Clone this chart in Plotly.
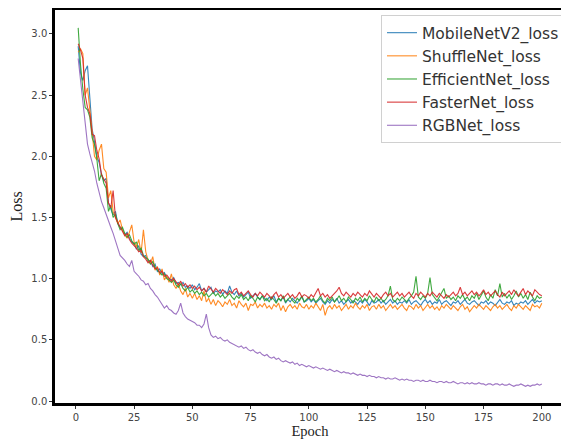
import plotly.graph_objects as go

epochs = list(range(1, 201))

mobilenet_loss = [
    2.90, 2.68, 2.62, 2.70, 2.74, 2.45, 2.22, 2.12, 2.00, 1.95,
    1.85, 1.80, 1.82, 1.62, 1.56, 1.52, 1.55, 1.45, 1.42, 1.40,
    1.36, 1.38, 1.33, 1.30, 1.29, 1.24, 1.27, 1.20, 1.18, 1.19,
    1.14, 1.15, 1.10, 1.12, 1.06, 1.08, 1.04, 1.05, 1.01, 1.00,
    0.99, 1.01, 0.96, 0.97, 0.95, 0.97, 0.93, 0.94, 0.92, 0.95,
    0.91, 0.93, 0.96, 0.90, 0.92, 0.89, 0.91, 0.93, 0.88, 0.90,
    0.89, 0.91, 0.87, 0.90, 0.88, 0.94, 0.89, 0.87, 0.90, 0.86,
    0.88, 0.85, 0.87, 0.89, 0.84, 0.86, 0.88, 0.85, 0.83, 0.86,
    0.84, 0.82, 0.85, 0.83, 0.86, 0.81, 0.84, 0.82, 0.85, 0.80,
    0.83, 0.81, 0.84, 0.82, 0.80, 0.83, 0.85, 0.81, 0.82, 0.84,
    0.81, 0.83, 0.80, 0.82, 0.84, 0.81, 0.79, 0.82, 0.80, 0.83,
    0.81, 0.84, 0.80, 0.82, 0.79, 0.81, 0.83, 0.80, 0.82, 0.81,
    0.79, 0.82, 0.80, 0.83, 0.81, 0.78, 0.82, 0.80, 0.81, 0.83,
    0.80, 0.82, 0.79, 0.81, 0.83, 0.80, 0.82, 0.79, 0.81, 0.80,
    0.82, 0.80, 0.83, 0.79, 0.81, 0.82, 0.80, 0.78, 0.81, 0.83,
    0.80, 0.82, 0.79, 0.81, 0.80, 0.83, 0.79, 0.81, 0.82, 0.80,
    0.78, 0.81, 0.80, 0.82, 0.79, 0.81, 0.83, 0.80, 0.79, 0.81,
    0.82, 0.80, 0.78, 0.81, 0.80, 0.82, 0.79, 0.81, 0.80, 0.78,
    0.81, 0.83, 0.80, 0.79, 0.81, 0.80, 0.82, 0.78, 0.80, 0.79,
    0.81, 0.80, 0.82, 0.79, 0.81, 0.83, 0.80, 0.82, 0.81, 0.82,
]

shufflenet_loss = [
    2.85, 2.88, 2.84, 2.50, 2.56, 2.35, 2.20, 2.00, 1.97, 2.05,
    2.10, 1.90, 1.87, 1.66, 1.72, 1.55, 1.50, 1.45, 1.48, 1.40,
    1.36, 1.33, 1.38, 1.44, 1.30, 1.26, 1.32, 1.21, 1.40, 1.22,
    1.15, 1.12, 1.18, 1.07, 1.10, 1.03, 1.08, 0.99, 1.02, 0.97,
    1.04, 0.95, 0.92, 0.96, 0.90, 0.87, 0.92, 0.85, 0.88, 0.84,
    0.88, 0.83, 0.86, 0.82, 0.90, 0.81, 0.84, 0.79, 0.83, 0.78,
    0.82, 0.80, 0.77, 0.81, 0.79, 0.83, 0.78, 0.80, 0.76, 0.82,
    0.79, 0.77, 0.80, 0.74, 0.79, 0.78, 0.81, 0.76, 0.79, 0.77,
    0.80, 0.76, 0.78, 0.75, 0.79, 0.77, 0.80, 0.74, 0.78, 0.73,
    0.77, 0.79, 0.76, 0.78, 0.75, 0.80, 0.77, 0.76, 0.79, 0.75,
    0.78, 0.76, 0.80, 0.77, 0.74, 0.79, 0.70, 0.76, 0.78, 0.75,
    0.79, 0.76, 0.78, 0.74, 0.77, 0.79, 0.75, 0.78, 0.76, 0.80,
    0.77, 0.75, 0.78, 0.76, 0.79, 0.74, 0.77, 0.78, 0.75, 0.79,
    0.76, 0.78, 0.74, 0.77, 0.79, 0.76, 0.78, 0.75, 0.77, 0.79,
    0.76, 0.74, 0.78, 0.77, 0.75, 0.79, 0.76, 0.78, 0.74, 0.77,
    0.79, 0.76, 0.78, 0.75, 0.77, 0.74, 0.78, 0.76, 0.79, 0.77,
    0.75, 0.78, 0.76, 0.74, 0.77, 0.79, 0.75, 0.77, 0.73, 0.76,
    0.78, 0.76, 0.79, 0.77, 0.75, 0.78, 0.76, 0.74, 0.77, 0.79,
    0.76, 0.78, 0.75, 0.77, 0.79, 0.76, 0.74, 0.78, 0.76, 0.79,
    0.77, 0.75, 0.78, 0.76, 0.74, 0.79, 0.77, 0.78, 0.76, 0.80,
]

efficientnet_loss = [
    3.05, 2.75, 2.55, 2.40, 2.38, 2.32, 2.15, 2.10, 1.98, 1.80,
    1.86, 1.78, 1.74, 1.55, 1.60, 1.50, 1.53, 1.45, 1.40, 1.42,
    1.37, 1.34, 1.36, 1.31, 1.28, 1.30, 1.23, 1.25, 1.19, 1.17,
    1.16, 1.12, 1.14, 1.09, 1.07, 1.05, 1.03, 1.04, 1.00, 0.99,
    0.97, 0.99, 0.95, 0.93, 0.96, 0.92, 0.90, 0.93, 0.89, 0.91,
    0.88, 0.90, 0.87, 0.89, 0.86, 0.88, 0.85, 0.87, 0.89, 0.86,
    0.88, 0.85, 0.87, 0.84, 0.86, 0.88, 0.85, 0.83, 0.86, 0.84,
    0.87, 0.83, 0.85, 0.82, 0.86, 0.84, 0.81, 0.85, 0.83, 0.86,
    0.82, 0.84, 0.81, 0.85, 0.83, 0.80, 0.84, 0.82, 0.86, 0.81,
    0.83, 0.85, 0.82, 0.80, 0.84, 0.82, 0.86, 0.81, 0.83, 0.85,
    0.82, 0.84, 0.81, 0.83, 0.86, 0.82, 0.80, 0.84, 0.82, 0.85,
    0.81, 0.83, 0.86, 0.82, 0.84, 0.81, 0.85, 0.83, 0.80, 0.84,
    0.82, 0.85, 0.81, 0.84, 0.82, 0.86, 0.83, 0.81, 0.85, 0.82,
    0.84, 0.81, 0.83, 0.86, 0.94, 0.83, 0.81, 0.84, 0.82, 0.85,
    0.83, 0.81, 0.84, 0.86, 0.89, 1.02, 0.85, 0.83, 0.86, 0.84,
    0.88, 1.01, 0.87, 0.84, 0.82, 0.85, 0.88, 0.92, 0.84, 0.86,
    0.83, 0.85, 0.82, 0.86, 0.84, 0.87, 0.83, 0.85, 0.82, 0.86,
    0.84, 0.88, 0.83, 0.86, 0.90, 0.85, 0.82, 0.87, 0.84, 0.91,
    0.86, 0.96, 0.85, 0.88, 0.84, 0.87, 0.83, 0.86, 0.90, 0.85,
    0.88, 0.84, 0.87, 0.83, 0.89, 0.85, 0.82, 0.86, 0.84, 0.85,
]

fasternet_loss = [
    2.92, 2.87, 2.80, 2.50, 2.40, 2.35, 2.18, 2.17, 2.05, 1.98,
    1.85, 1.82, 1.78, 1.62, 1.58, 1.72, 1.50, 1.46, 1.42, 1.39,
    1.35, 1.37, 1.32, 1.29, 1.27, 1.25, 1.22, 1.23, 1.18, 1.16,
    1.13, 1.15, 1.11, 1.08, 1.09, 1.05, 1.06, 1.02, 1.03, 1.00,
    0.98, 1.00, 0.97, 0.95, 0.98, 0.94, 0.96, 0.93, 0.95, 0.92,
    0.94, 0.91, 0.93, 0.90, 0.92, 0.89, 0.94, 0.91, 0.89, 0.92,
    0.90, 0.88, 0.91, 0.89, 0.87, 0.90, 0.88, 0.91, 0.92, 0.87,
    0.89, 0.86, 0.88, 0.90, 0.87, 0.85, 0.88, 0.86, 0.89, 0.87,
    0.85, 0.88, 0.86, 0.84, 0.87, 0.89, 0.85, 0.87, 0.84, 0.86,
    0.88, 0.85, 0.87, 0.84, 0.86, 0.89, 0.85, 0.87, 0.86, 0.84,
    0.87, 0.85, 0.89, 0.92, 0.86, 0.88, 0.85, 0.87, 0.84, 0.86,
    0.88, 0.90, 0.93, 0.88, 0.86, 0.89, 0.87, 0.85, 0.88, 0.86,
    0.89, 0.87, 0.85, 0.88, 0.86, 0.90, 0.87, 0.85, 0.88, 0.86,
    0.84, 0.87, 0.89, 0.86, 0.88, 0.85, 0.87, 0.89, 0.86, 0.88,
    0.85, 0.87, 0.89, 0.86, 0.84, 0.88, 0.86, 0.89, 0.87, 0.85,
    0.88, 0.86, 0.89, 0.87, 0.85, 0.88, 0.86, 0.84, 0.87, 0.85,
    0.87, 0.89, 0.86, 0.88, 0.93, 0.87, 0.89, 0.86, 0.88, 0.90,
    0.87, 0.89, 0.86, 0.88, 0.91, 0.87, 0.89, 0.86, 0.88, 0.90,
    0.87, 0.85, 0.89, 0.86, 0.88, 0.90, 0.87, 0.91, 0.88, 0.86,
    0.89, 0.92, 0.87, 0.90, 0.88, 0.86, 0.91, 0.89, 0.87, 0.86,
]

rgbnet_loss = [
    2.80, 2.62, 2.45, 2.25, 2.10, 2.02, 1.96, 1.88, 1.78, 1.70,
    1.63, 1.58, 1.52, 1.47, 1.42, 1.37, 1.30, 1.25, 1.19, 1.17,
    1.15, 1.12, 1.10, 1.15, 1.06, 1.04, 1.02, 0.99, 0.98, 0.95,
    0.96, 0.92, 0.90, 0.87, 0.85, 0.82, 0.79, 0.76, 0.78, 0.75,
    0.74, 0.72, 0.71, 0.74, 0.80, 0.72, 0.69, 0.67, 0.66, 0.65,
    0.64, 0.62, 0.62, 0.60, 0.63, 0.71, 0.60, 0.54, 0.52, 0.53,
    0.51, 0.52, 0.50, 0.49, 0.50, 0.48, 0.47, 0.46, 0.45, 0.44,
    0.45, 0.43, 0.44, 0.42, 0.41, 0.42, 0.40, 0.39, 0.40, 0.38,
    0.37, 0.38, 0.36, 0.35, 0.36, 0.34, 0.35, 0.33, 0.32, 0.33,
    0.32, 0.31, 0.32, 0.30, 0.31, 0.29, 0.30, 0.29, 0.28, 0.29,
    0.28, 0.27, 0.28, 0.27, 0.26, 0.27, 0.26, 0.25, 0.26, 0.25,
    0.24, 0.25, 0.24, 0.23, 0.24, 0.23, 0.23, 0.22, 0.23, 0.22,
    0.21, 0.22, 0.21, 0.21, 0.20, 0.21, 0.20, 0.20, 0.19, 0.20,
    0.19, 0.19, 0.18, 0.19, 0.18, 0.18, 0.19, 0.18, 0.17, 0.18,
    0.17, 0.18, 0.17, 0.17, 0.16, 0.17, 0.17, 0.16, 0.17, 0.16,
    0.16, 0.17, 0.16, 0.16, 0.15, 0.16, 0.16, 0.15, 0.16, 0.15,
    0.15, 0.16, 0.15, 0.14, 0.15, 0.15, 0.14, 0.15, 0.14, 0.15,
    0.14, 0.14, 0.15, 0.14, 0.14, 0.13, 0.14, 0.14, 0.13, 0.14,
    0.14, 0.13, 0.14, 0.13, 0.13, 0.14, 0.13, 0.12, 0.13, 0.13,
    0.14, 0.13, 0.12, 0.13, 0.12, 0.13, 0.13, 0.14, 0.13, 0.14,
]

series_names = ["MobileNetV2_loss", "ShuffleNet_loss", "EfficientNet_loss",
                "FasterNet_loss", "RGBNet_loss"]
series_values = [mobilenet_loss, shufflenet_loss, efficientnet_loss,
                 fasternet_loss, rgbnet_loss]
colors = ["#1f77b4", "#ff7f0e", "#2ca02c", "#d62728", "#9467bd"]

x_ticks = [0, 25, 50, 75, 100, 125, 150, 175, 200]
y_ticks = [0.0, 0.5, 1.0, 1.5, 2.0, 2.5, 3.0]
y_tick_labels = ["0.0", "0.5", "1.0", "1.5", "2.0", "2.5", "3.0"]

fig = go.Figure()
for i, (name, vals, col) in enumerate(zip(series_names, series_values, colors)):
    fig.add_trace(go.Scatter(
        x=epochs, y=vals, mode="lines", name=name,
        line=dict(color=col, width=1.1),
        opacity=0.9,
        legendgroup=f"g{i}",
    ))

axis_common = dict(
    showline=True, linecolor="black", linewidth=2.5, mirror=True,
    ticks="outside", ticklen=3, tickwidth=1, tickcolor="#333",
    showgrid=False, zeroline=False, automargin=False,
    tickfont=dict(family="DejaVu Sans", size=10, color="#444"),
)

# page body has an 8px default margin, so the figure is sized to the visible area
fig.update_layout(
    width=561, height=431,
    margin=dict(l=47, r=4, t=2, b=36),
    paper_bgcolor="white", plot_bgcolor="white",
    xaxis=dict(range=[-8.95, 209.95], tickvals=x_ticks,
               title=dict(text="Epoch", standoff=10,
                          font=dict(family="Liberation Serif", size=14.5, color="#222")),
               **axis_common),
    yaxis=dict(range=[-0.016, 3.196], tickvals=y_ticks, ticktext=y_tick_labels,
               title=dict(text="Loss", standoff=6,
                          font=dict(family="Liberation Serif", size=16, color="#222")),
               **axis_common),
    legend=dict(
        x=1.0, y=0.987, xanchor="right", yanchor="top",
        bgcolor="rgba(255,255,255,0.85)", bordercolor="#d0d0d0", borderwidth=1,
        font=dict(family="DejaVu Sans", size=15.5, color="#333"),
        itemwidth=30, tracegroupgap=0,
    ),
)

fig.write_html("out.html")
